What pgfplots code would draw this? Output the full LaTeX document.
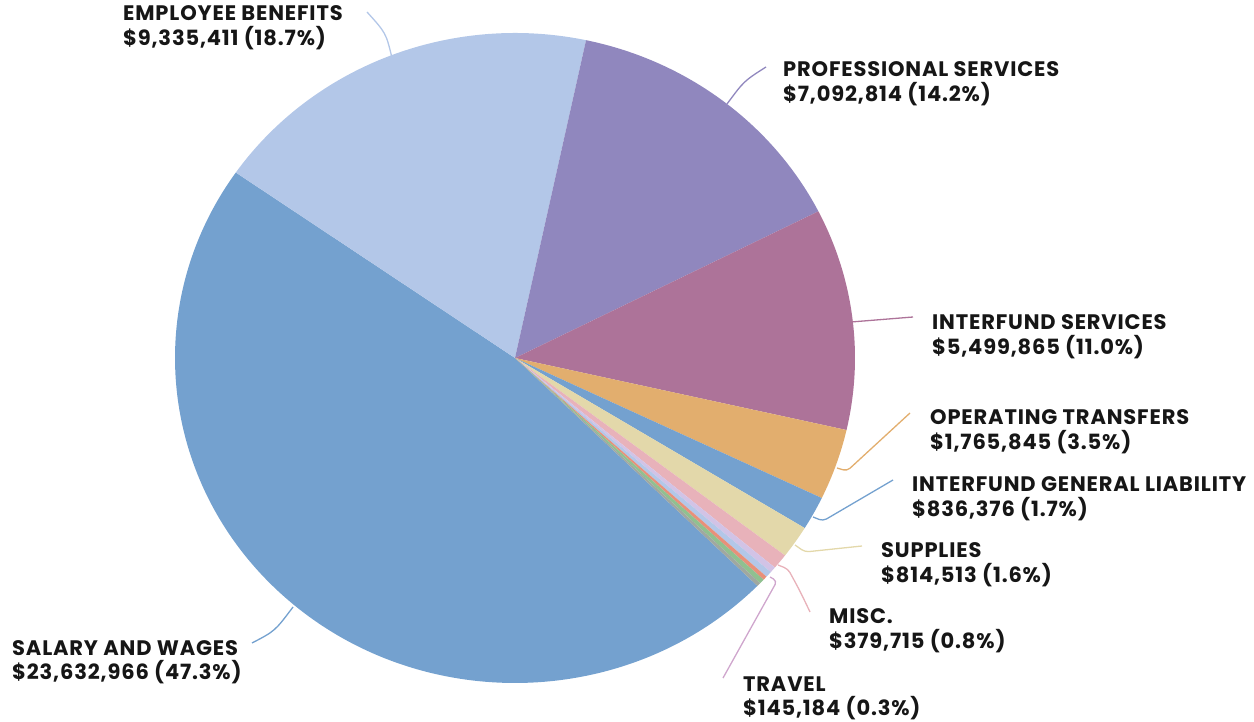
\documentclass[border=0pt]{standalone}
\usepackage{pgfplots}
\pgfplotsset{compat=1.18}
\usepackage{fontspec}
\setmainfont{Poppins}[LetterSpace=4]

\definecolor{cSal}{HTML}{74A1CF}
\definecolor{cEB}{HTML}{B3C7E8}
\definecolor{cPS}{HTML}{9087BE}
\definecolor{cIS}{HTML}{AD7399}
\definecolor{cOT}{HTML}{E2AE6E}
\definecolor{cIGL}{HTML}{74A1CF}
\definecolor{cSup}{HTML}{E3D8AA}
\definecolor{cMisc}{HTML}{E8B2BA}
\definecolor{cTrav}{HTML}{D2C3E6}
\definecolor{cO1}{HTML}{B3C7E8}
\definecolor{cO2}{HTML}{E8907A}
\definecolor{cO3}{HTML}{90C090}
\definecolor{cO4}{HTML}{A0A8A0}
\definecolor{txt}{HTML}{161616}

% values in millions of dollars
\def\vEB{9.335411}
\def\vPS{7.092814}
\def\vIS{5.499865}
\def\vOT{1.765845}
\def\vIGL{0.836376}
\def\vSup{0.814513}
\def\vMisc{0.379715}
\def\vTrav{0.145184}
\def\vOA{0.15}
\def\vOB{0.10}
\def\vOC{0.12}
\def\vOD{0.09}
\def\vSal{23.632966}
\pgfmathsetmacro\pietotal{\vEB+\vPS+\vIS+\vOT+\vIGL+\vSup+\vMisc+\vTrav+\vOA+\vOB+\vOC+\vOD+\vSal}

\xdef\curang{145.2}
\newcommand\defslice[2]{%
  \pgfmathsetmacro\tmpend{\curang - #2/\pietotal*360}%
  \expandafter\xdef\csname s#1\endcsname{\curang}%
  \expandafter\xdef\csname e#1\endcsname{\tmpend}%
  \xdef\curang{\tmpend}}
\defslice{EB}{\vEB}
\defslice{PS}{\vPS}
\defslice{IS}{\vIS}
\defslice{OT}{\vOT}
\defslice{IGL}{\vIGL}
\defslice{Sup}{\vSup}
\defslice{Misc}{\vMisc}
\defslice{Trav}{\vTrav}
\defslice{OA}{\vOA}
\defslice{OB}{\vOB}
\defslice{OC}{\vOC}
\defslice{OD}{\vOD}
\defslice{Sal}{\vSal}

\newcommand\pieslice[2]{%
  \fill[#2] (axis cs:{515+340*cos(\csname s#1\endcsname)},{363+325*sin(\csname s#1\endcsname)})
    arc[start angle=\csname s#1\endcsname, end angle=\csname e#1\endcsname, x radius=340pt, y radius=325pt]
    -- (axis cs:515,363) -- cycle;}

\newcommand\lab[4]{%
  \node[anchor=base west, inner sep=0pt, font=\fontsize{21}{24}\selectfont\bfseries, text=txt] at (axis cs:#1,#2) {#3};
  \node[anchor=base west, inner sep=0pt, font=\fontsize{21}{24}\selectfont\bfseries, text=txt] at (axis cs:#1,#2-24.5) {#4};}

\begin{document}
\begin{tikzpicture}
\begin{axis}[
  x=1pt, y=1pt,
  xmin=0, xmax=1254, ymin=0, ymax=721,
  hide axis, clip=false,
]
\pieslice{Sal}{cSal}
\pieslice{EB}{cEB}
\pieslice{PS}{cPS}
\pieslice{IS}{cIS}
\pieslice{OT}{cOT}
\pieslice{IGL}{cIGL}
\pieslice{Sup}{cSup}
\pieslice{Misc}{cMisc}
\pieslice{Trav}{cTrav}
\pieslice{OA}{cO1}
\pieslice{OB}{cO2}
\pieslice{OC}{cO3}
\pieslice{OD}{cO4}

% leader lines
\begin{scope}[line width=1.3pt]
\draw[cEB] (axis cs:392,663) .. controls (axis cs:386,688) .. (axis cs:367,709);
\draw[cPS] (axis cs:727,617) .. controls (axis cs:744,640) .. (axis cs:766,654);
\draw[cIS] (axis cs:851,399) -- (axis cs:913,404);
\draw[cOT, rounded corners=4pt] (axis cs:837,253) -- (axis cs:847,250) -- (axis cs:910,308);
\draw[cIGL, rounded corners=4pt] (axis cs:813,204) -- (axis cs:823,200) -- (axis cs:893,241);
\draw[cSup, rounded corners=4pt] (axis cs:795,176) -- (axis cs:805,169) -- (axis cs:862,175);
\draw[cMisc, rounded corners=4pt] (axis cs:778,156) -- (axis cs:788,152) .. controls (axis cs:800,130) .. (axis cs:810,109);
\draw[cTrav!85!purple, rounded corners=4pt] (axis cs:770,144) -- (axis cs:777,140) .. controls (axis cs:750,90) .. (axis cs:723,43);
\draw[cSal] (axis cs:293,114) .. controls (axis cs:275,90) .. (axis cs:252,78);
\end{scope}

\lab{123}{700}{EMPLOYEE BENEFITS}{\$9,335,411 (18.7\%)}
\lab{783}{644}{PROFESSIONAL SERVICES}{\$7,092,814 (14.2\%)}
\lab{932}{391}{INTERFUND SERVICES}{\$5,499,865 (11.0\%)}
\lab{930}{296}{OPERATING TRANSFERS}{\$1,765,845 (3.5\%)}
\lab{912}{229}{INTERFUND GENERAL LIABILITY}{\$836,376 (1.7\%)}
\lab{881}{163}{SUPPLIES}{\$814,513 (1.6\%)}
\lab{829}{97}{MISC.}{\$379,715 (0.8\%)}
\lab{743}{30}{TRAVEL}{\$145,184 (0.3\%)}
\lab{12}{66}{SALARY AND WAGES}{\$23,632,966 (47.3\%)}
\end{axis}
\pgfresetboundingbox
\path (current axis.south west) rectangle (current axis.north east);
\end{tikzpicture}
\end{document}
